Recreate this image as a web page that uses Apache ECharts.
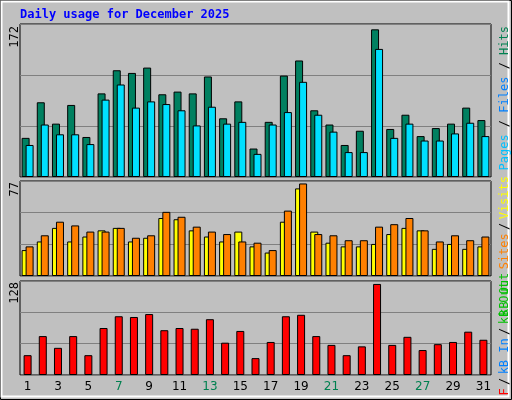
<!DOCTYPE html>
<html><head><meta charset="utf-8">
<script src="https://cdn.jsdelivr.net/npm/echarts@6/dist/echarts.min.js"></script>
<style>html,body{margin:0;padding:0;background:#c0c0c0}#c{width:512px;height:400px}</style>
</head><body><div id="c"></div>
<script>
const days = ['1','2','3','4','5','6','7','8','9','10','11','12','13','14','15','16','17','18','19','20','21','22','23','24','25','26','27','28','29','30','31'];
const weekend = ['6','7','13','14','20','21','27','28'];
const hits  = [44,84,60,81,45,94,120,117,123,93,96,94,113,66,85,32,62,114,131,75,59,36,52,166,54,70,46,55,60,78,64];
const files = [36,59,48,48,37,87,104,78,85,82,75,58,79,60,62,26,59,73,107,70,51,28,28,144,44,60,41,41,49,61,46];
const visits= [21,28,39,28,32,37,39,28,31,47,46,37,32,28,36,24,19,44,71,36,27,24,24,26,34,39,37,22,26,22,24];
const sites = [24,33,44,41,36,36,39,31,33,52,48,40,36,34,28,27,21,53,75,34,33,29,29,40,42,47,37,28,33,29,32];
const kbF   = [27,53,37,53,27,64,80,79,83,61,64,63,76,44,60,23,45,80,82,53,41,27,39,124,41,52,34,42,45,59,48];
const maxHits = 172, maxVisits = 77, maxKB = 128;

const chart = echarts.init(document.getElementById('c'));
const grids = [
  {left:20,right:21,top:24,height:153},
  {left:20,right:21,top:181,height:95},
  {left:20,right:21,top:281,height:94}
].map(g=>Object.assign(g,{show:true,backgroundColor:'#c0c0c0',borderColor:'#000',borderWidth:1}));
const maxes=[maxHits,maxVisits,maxKB];
const xAxes = [0,1,2].map(i=>({type:'category',gridIndex:i,data:days,
  axisLine:{show:false},axisTick:{show:false},
  axisLabel:{show:i===2,fontFamily:'DejaVu Sans',fontSize:12,margin:6,
    color:(v)=>weekend.includes(v)?'#008050':'#000'}}));
const yAxes = maxes.map((m,i)=>({type:'value',gridIndex:i,min:0,max:m,interval:m/3,
  axisLabel:{show:false},axisLine:{show:false},axisTick:{show:false},
  splitLine:{lineStyle:{color:'#808080',width:1}}}));
const bs = {borderColor:'#000',borderWidth:1};
const mk=(name,data,color,i)=>({type:'bar',name,data,xAxisIndex:i,yAxisIndex:i,barWidth:8,barGap:'-50%',
  itemStyle:Object.assign({color},bs),animation:false});
const vt=(x,y,rich,text)=>({type:'text',x,y,rotation:Math.PI/2,style:{text,rich,font:'12px "DejaVu Sans Mono"',textAlign:'right',textVerticalAlign:'middle'}});
chart.setOption({
  backgroundColor:'#c0c0c0',
  graphic:[
    {type:'rect',shape:{x:0.5,y:0.5,width:511,height:399},style:{fill:'none',stroke:'#000'}},
    {type:'rect',shape:{x:1.5,y:1.5,width:507,height:395},style:{fill:'none',stroke:'#fff',lineWidth:2}},
    {type:'text',x:20,y:9,style:{text:'Daily usage for December 2025',font:'bold 12px "DejaVu Sans Mono"',fill:'#0000ff'}},
    vt(15,26,{},'172'),
    vt(15,182,{},'77'),
    vt(15,282,{},'128'),
    {type:'text',x:505,y:26,rotation:Math.PI/2,style:{text:'{a|Pages} {s|/} {b|Files} {s|/} {c|Hits}',textAlign:'right',textVerticalAlign:'middle',font:'12px "DejaVu Sans Mono"',
      rich:{a:{fill:'#00c0ff',font:'12px "DejaVu Sans Mono"'},b:{fill:'#0080ff',font:'12px "DejaVu Sans Mono"'},c:{fill:'#008050',font:'12px "DejaVu Sans Mono"'},s:{fill:'#000',font:'12px "DejaVu Sans Mono"'}}}},
    {type:'text',x:505,y:176,rotation:Math.PI/2,style:{text:'{g|kB Out} {o|Sites} {s|/} {y|Visits}',textAlign:'right',textVerticalAlign:'middle',
      rich:{g:{fill:'#00c000',font:'12px "DejaVu Sans Mono"'},o:{fill:'#ff8000',font:'12px "DejaVu Sans Mono"'},y:{fill:'#ffff00',font:'12px "DejaVu Sans Mono"'},s:{fill:'#000',font:'12px "DejaVu Sans Mono"'}}}},
    {type:'text',x:505,y:281,rotation:Math.PI/2,style:{text:'{r|kB F} {s|/} {b|kB In} {s|/} {g|kB Out}',textAlign:'right',textVerticalAlign:'middle',
      rich:{r:{fill:'#ff0000',font:'12px "DejaVu Sans Mono"'},b:{fill:'#0080ff',font:'12px "DejaVu Sans Mono"'},g:{fill:'#00c000',font:'12px "DejaVu Sans Mono"'},s:{fill:'#000',font:'12px "DejaVu Sans Mono"'}}}}
  ],
  grid:grids, xAxis:xAxes, yAxis:yAxes,
  series:[
    mk('Hits',hits,'#008060',0), mk('Files',files,'#00e0ff',0),
    mk('Visits',visits,'#ffff00',1), mk('Sites',sites,'#ff8000',1),
    Object.assign(mk('kB F',kbF,'#ff0000',2),{barGap:'0%'})
  ]
});
</script></body></html>
